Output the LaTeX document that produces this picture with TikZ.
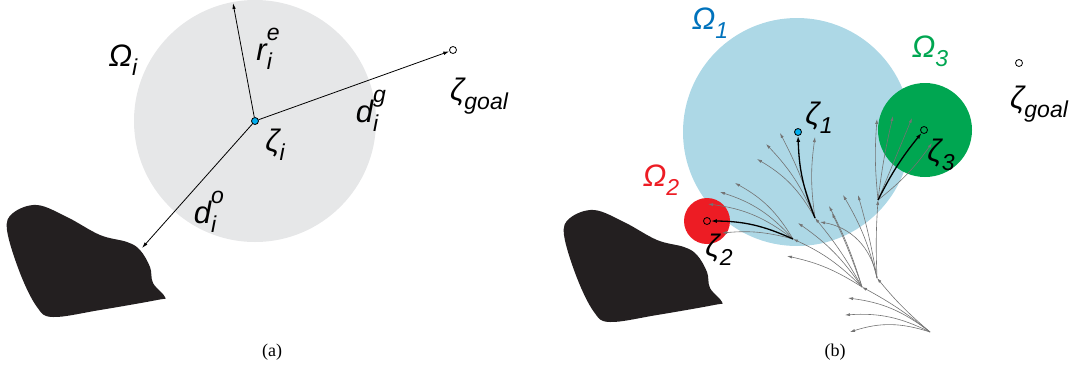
\documentclass[tikz,border=0pt]{standalone}
\usepackage{fontspec}
\setmainfont{Liberation Serif}
\newfontfamily\lblfont{Liberation Sans}
\usetikzlibrary{arrows.meta}
\definecolor{regiongray}{RGB}{230,231,232}
\definecolor{regionblue}{RGB}{173,216,230}
\definecolor{regiongreen}{RGB}{0,166,81}
\definecolor{regionred}{RGB}{237,28,36}
\definecolor{labelblue}{RGB}{0,114,188}
\definecolor{obstcolor}{RGB}{35,31,32}
\definecolor{dotcyan}{RGB}{0,174,239}
\definecolor{twiggray}{RGB}{115,115,115}

\newcommand{\subsize}{\fontsize{23}{23}\selectfont}
\newcommand{\symsub}[2]{#1\raisebox{-.3em}{\subsize #2}}
\newcommand{\symsubsup}[3]{#1\rlap{\raisebox{-.3em}{\subsize #2}}\raisebox{.62em}{\subsize #3}}

\begin{document}
\begin{tikzpicture}[x=1pt, y=-1pt,
  lbl/.style={font=\fontsize{31}{33}\selectfont\lblfont\itshape, inner sep=0pt},
  captext/.style={font=\fontsize{18}{20}\selectfont, inner sep=0pt},
  vec/.style={line width=0.8pt, -{Latex[length=6pt,width=3.5pt]}},
  twig/.style={twiggray, line width=0.6pt, -{Latex[length=5pt,width=3pt]}},
  trunk/.style={black, line width=1.3pt, -{Latex[length=6pt,width=4pt]}},
  pt/.style={circle, draw, line width=0.8pt, inner sep=0pt, minimum size=7pt}]

  \useasboundingbox (0,0) rectangle (1078,378);

  % ---------------- (a) ----------------
  \fill[regiongray] (255,121) circle (121);
  \fill[obstcolor] plot[smooth cycle, tension=0.6] coordinates {
    (7,230) (13,213) (37,205) (67,217) (100,235) (127,242) (140,250)
    (150,267) (153,283) (165,297) (157,300) (100,310) (53,317) (37,307) (20,273)};

  \node[pt, fill=dotcyan] (zi) at (255,121) {};
  \node[pt, fill=white] (goala) at (453,50) {};
  \coordinate (rtip) at (233,3);
  \coordinate (otip) at (142,248);

  \draw[vec] (zi) -- (rtip);
  \draw[vec] (zi) -- (goala);
  \draw[vec] (zi) -- (otip);

  \node[lbl] (omi) at (123,60) {\symsub{Ω}{i}};
  \node[lbl] (rie) at (268,49) {\symsubsup{r}{i}{e}};
  \node[lbl] (dig) at (371,111) {\symsubsup{d}{i}{g}};
  \node[lbl] (zga) at (479,96) {\symsub{ζ}{goal}};
  \node[lbl] (zil) at (275,145) {\symsub{ζ}{i}};
  \node[lbl] (dio) at (209,212) {\symsubsup{d}{i}{o}};
  \node[captext] (capa) at (272,352) {(a)};

  % ---------------- (b) ----------------
  \fill[regionblue] (797,132) circle (114);
  \fill[regiongreen] (925,130) circle (47);
  \fill[regionred] (707,221) circle (23);
  \begin{scope}[shift={(557,5)}]
    \fill[obstcolor] plot[smooth cycle, tension=0.6] coordinates {
      (7,230) (13,213) (37,205) (67,217) (100,235) (127,242) (140,250)
      (150,267) (153,283) (165,297) (157,300) (100,310) (53,317) (37,307) (20,273)};
  \end{scope}

  % tree nodes
  \coordinate (R) at (930,332);
  \coordinate (P) at (862,287);
  \coordinate (Q) at (877,278);
  \coordinate (S1) at (815,218);
  \coordinate (S2) at (793,239);
  \coordinate (S3) at (878,200);
  \foreach \n/\x/\y in {r1/848/298, r2/845/315, r3/850/332,
      p1/787/256, p2/798/223, p3/829/206, p4/832/213,
      q1/843/195, q2/858/195, q3/820/222,
      s1a/780/133, s1b/766/144, s1c/757/159, s1d/815/137,
      s2a/722/233, s2b/708/204, s2c/720/192, s2d/735/183,
      s3a/877/119, s3b/893/116, s3c/912/118, s3d/932/143}
    \coordinate (\n) at (\x,\y);

  \node[pt, fill=dotcyan] (z1) at (798,132) {};
  \node[pt] (z2) at (707,221) {};
  \node[pt] (z3) at (924,130) {};
  \node[pt, fill=white] (goalb) at (1019,63) {};

  % grey branches
  \foreach \n/\b in {r1/15, r2/15, r3/18, P/5}
    \draw[twig, bend right=\b] (R) to (\n);
  \draw[twig, bend left=5] (R) to (Q);
  \foreach \n/\b in {p1/10, S2/10, p2/10, S1/5, p3/5, p4/3}
    \draw[twig, bend right=\b] (P) to (\n);
  \foreach \n/\b in {q1/8, q2/3, q3/35}
    \draw[twig, bend right=\b] (Q) to (\n);
  \draw[twig, bend left=3] (Q) to (S3);
  \foreach \n/\b in {s1a/5, s1b/10, s1c/15}
    \draw[twig, bend right=\b] (S1) to (\n);
  \draw[twig, bend left=8] (S1) to (s1d);
  \foreach \n/\b in {s2a/10, s2b/15, s2c/15, s2d/15}
    \draw[twig, bend right=\b] (S2) to (\n);
  \foreach \n/\b in {s3a/5, s3b/3}
    \draw[twig, bend left=\b] (S3) to (\n);
  \draw[twig] (S3) to (s3c);
  \draw[twig, bend right=8] (S3) to (s3d);

  % chosen branches
  \draw[trunk, bend left=10] (S1) to (z1);
  \draw[trunk, bend right=12] (S2) to (z2);
  \draw[trunk, bend left=6] (S3) to (z3);

  \node[lbl, labelblue] (om1) at (710,23) {\symsub{Ω}{1}};
  \node[lbl, regionred] (om2) at (661,180) {\symsub{Ω}{2}};
  \node[lbl, regiongreen] (om3) at (930,51) {\symsub{Ω}{3}};
  \node[lbl] (z1l) at (819,118) {\symsub{ζ}{1}};
  \node[lbl] (z2l) at (719,250) {\symsub{ζ}{2}};
  \node[lbl] (z3l) at (941,155) {\symsub{ζ}{3}};
  \node[lbl] (zgb) at (1039,104) {\symsub{ζ}{goal}};
  \node[captext] (capb) at (835,352) {(b)};
\end{tikzpicture}
\end{document}
